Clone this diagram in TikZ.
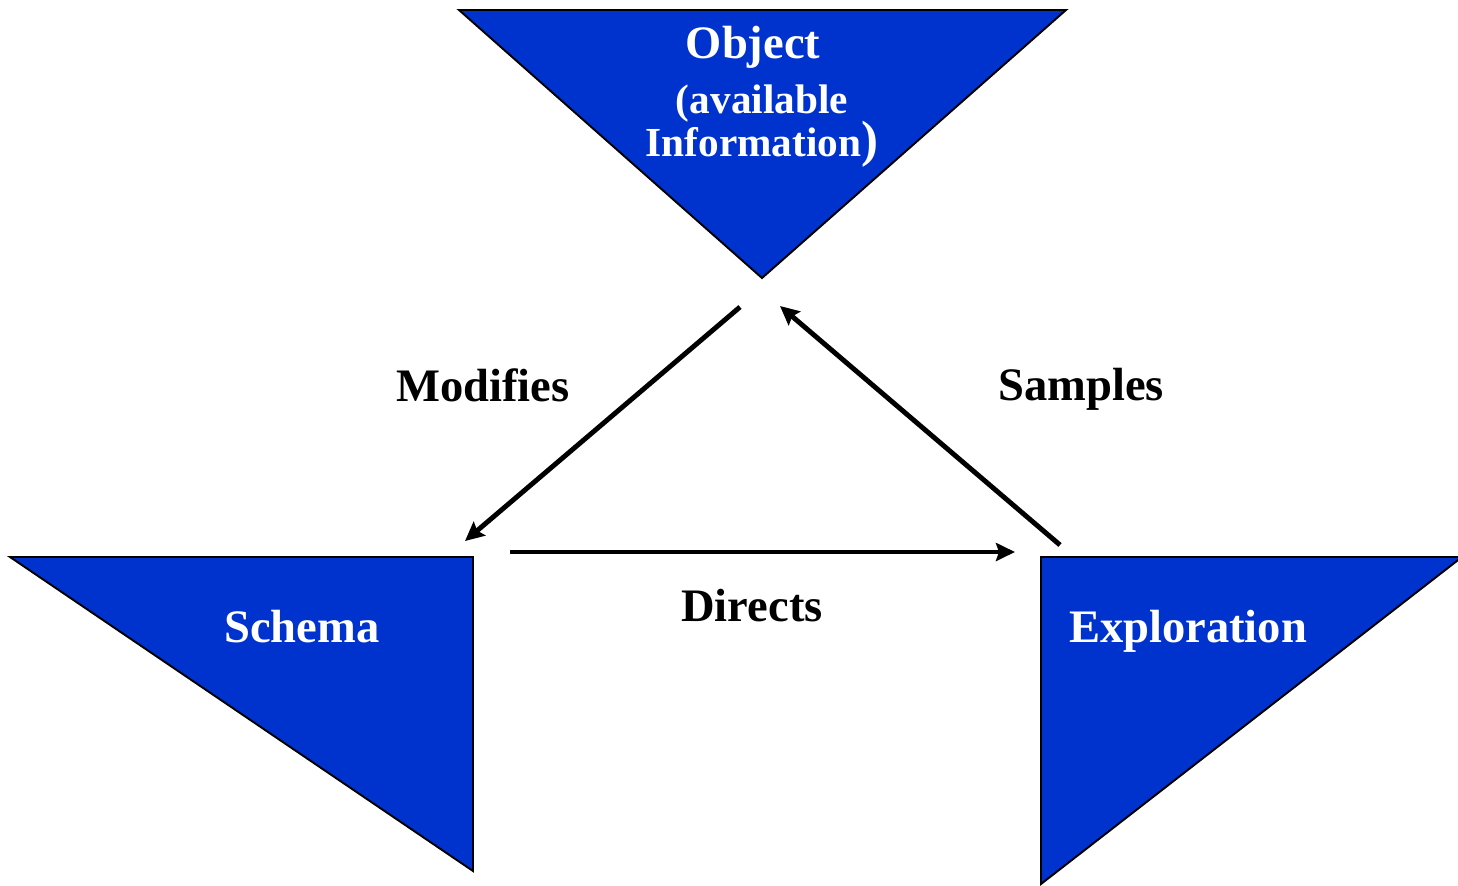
\documentclass[tikz,border=0pt]{standalone}
\usepackage{fontspec}
\setmainfont{Liberation Serif}
\usetikzlibrary{arrows.meta}
\definecolor{triblue}{RGB}{0,51,206}
\tikzset{
  tri/.style={draw=black, line width=1.1pt, fill=triblue, line join=miter},
  lbl/.style={font=\bfseries\fontsize{26.5}{30}\selectfont, inner sep=0pt, anchor=base},
  wlbl/.style={lbl, text=white},
  link/.style={line width=2.8pt, -{Stealth[length=0.38cm,width=0.36cm,inset=0.06cm]}}
}
\begin{document}
\begin{tikzpicture}[x=0.02cm, y=-0.02cm, line join=round]
  \useasboundingbox (0,0) rectangle (1458,886);
  % Triangles
  \draw[tri] (459,10) -- (1066,10) -- (762,278) -- cycle;
  \draw[tri] (10,557) -- (473,557) -- (473,871) -- cycle;
  \draw[tri] (1041,557) -- (1462,557) -- (1041,884) -- cycle;
  % Texts in the triangles
  \node[wlbl] (object) at (753,58) {Object};
  \node[wlbl, anchor=center, font=\bfseries\fontsize{23.5}{26.5}\selectfont, align=center] (info) at (762,126)
    {(available\\[-2pt]Information{\fontsize{29}{29}\selectfont)}};
  \node[wlbl] (schema) at (302,642) {Schema};
  \node[wlbl] (explo) at (1188,642) {Exploration};
  % Arrow ends
  \coordinate (objL) at (740,307);
  \coordinate (objR) at (780,306);
  \coordinate (schTop) at (465,541);
  \coordinate (schR) at (510,552);
  \coordinate (expL) at (1015,552);
  \coordinate (expTop) at (1060,545);
  \draw[link] (objL) -- (schTop);
  \draw[link] (expTop) -- (objR);
  \draw[link] (schR) -- (expL);
  % Labels of the arrows
  \node[lbl] (modifies) at (483,401.5) {Modifies};
  \node[lbl] (samples) at (1081,400.5) {Samples};
  \node[lbl] (directs) at (752,621.5) {Directs};
\end{tikzpicture}
\end{document}
